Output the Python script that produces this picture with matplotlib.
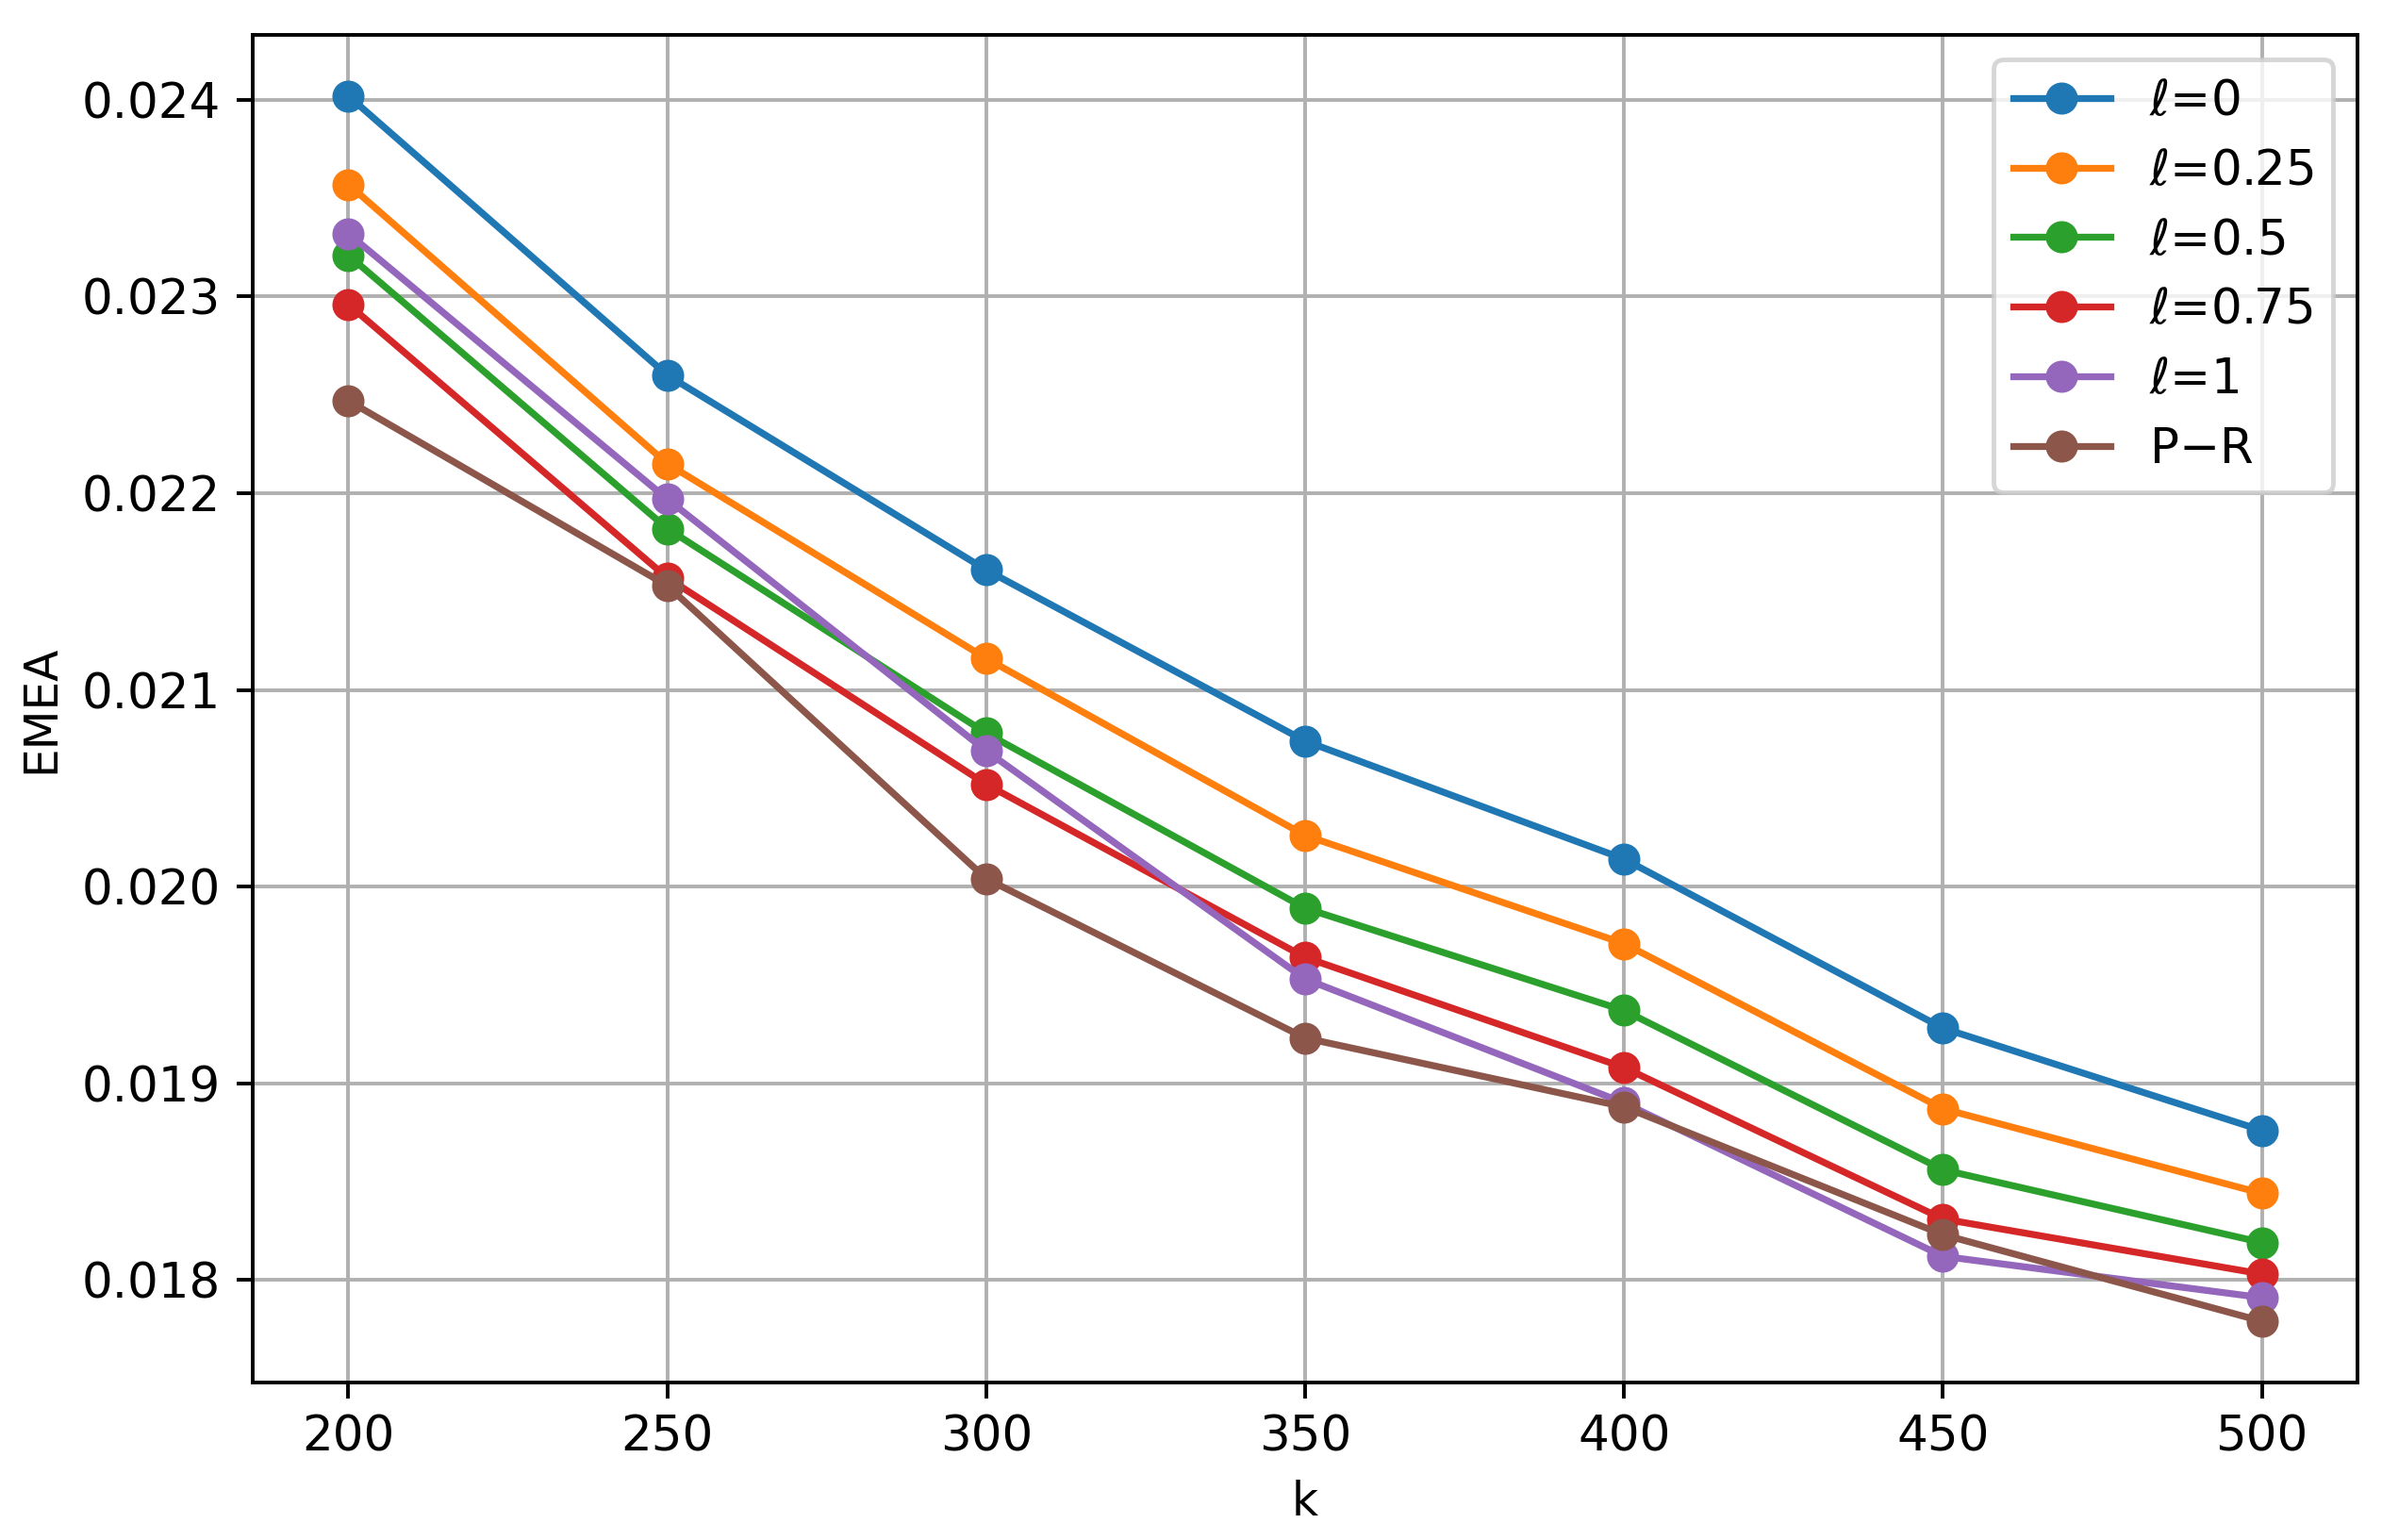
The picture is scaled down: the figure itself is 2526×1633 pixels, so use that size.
import numpy as np
import matplotlib
matplotlib.use('Agg')
import matplotlib.pyplot as plt

# x 轴：k
k_values = [200, 250, 300, 350, 400, 450, 500]

# 各曲线 EMEA 数值
emea_l0 = [0.02402, 0.02260, 0.02161, 0.02074, 0.02014, 0.01928, 0.01876]
emea_l025 = [0.02357, 0.02215, 0.02116, 0.02026, 0.01971, 0.01887, 0.01844]
emea_l05 = [0.02321, 0.02182, 0.02078, 0.01989, 0.01937, 0.01856, 0.01819]
emea_l075 = [0.02296, 0.02157, 0.02052, 0.01964, 0.01908, 0.01831, 0.01803]
emea_l1 = [0.02332, 0.02197, 0.02069, 0.01953, 0.01890, 0.01812, 0.01791]
emea_pr = [0.02247, 0.02153, 0.02004, 0.01923, 0.01888, 0.01823, 0.01779]

series_labels = [r'$\ell$=0', r'$\ell$=0.25', r'$\ell$=0.5', r'$\ell$=0.75', r'$\ell$=1', 'P$-$R']


def main():
	series = [emea_l0, emea_l025, emea_l05, emea_l075, emea_l1, emea_pr]

	fig, ax = plt.subplots(figsize=(2526 / 350, 1633 / 350), dpi=350)

	for values, label in zip(series, series_labels):
		ax.plot(k_values, values, marker='o', label=label)

	ax.set_xlabel('k')
	ax.set_ylabel('EMEA')
	ax.tick_params(labelsize=10.6)
	ax.grid(True)
	ax.legend(loc='upper right', fontsize=10.6, labelspacing=0.46)

	fig.subplots_adjust(left=0.1061, right=0.9897, top=0.9775, bottom=0.1023)
	fig.savefig('out.png', dpi=350)


if __name__ == '__main__':
	main()
